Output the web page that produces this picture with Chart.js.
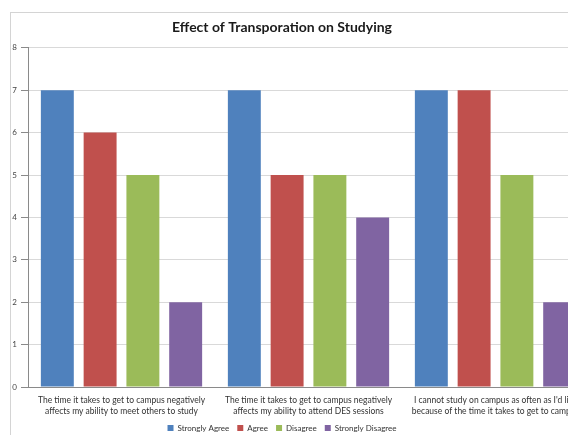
<!DOCTYPE html>
<html>
<head>
<meta charset="utf-8">
<script src="https://cdn.jsdelivr.net/npm/chart.js@4.4.1/dist/chart.umd.min.js"></script>
<style>
  html, body { margin: 0; padding: 0; background: #ffffff; overflow: hidden; width: 568px; height: 435px; }
  #frame { position: absolute; left: 10px; top: 12px; width: 700px; height: 600px; border: 1px solid #d4d4d4; box-sizing: border-box; }
  #c { position: absolute; left: 0; top: 0; }
</style>
</head>
<body>
<div id="frame"></div>
<canvas id="c" width="589" height="435"></canvas>
<script>
// Survey statements (x categories), one wrapped label per group
const categories = [
  ["The time it takes to get to campus negatively", "affects my ability to meet others to study"],
  ["The time it takes to get to campus negatively", "affects my ability to attend DES sessions"],
  ["I cannot study on campus as often as I'd like", "because of the time it takes to get to campus"]
];
const responseLabels = ["Strongly Agree", "Agree", "Disagree", "Strongly Disagree"];
const stronglyAgree = [7, 7, 7];
const agree = [6, 5, 7];
const disagree = [5, 5, 5];
const stronglyDisagree = [2, 4, 2];
const yTicks = [0, 1, 2, 3, 4, 5, 6, 7, 8];

const palette = ["#4F81BD", "#C0504D", "#9BBB59", "#8064A2"];
const series = [stronglyAgree, agree, disagree, stronglyDisagree];

const fontFamily = "Lato, 'Open Sans', 'Liberation Sans', sans-serif";

new Chart(document.getElementById("c"), {
  type: "bar",
  data: {
    labels: categories,
    datasets: series.map((values, i) => ({
      label: responseLabels[i],
      data: values,
      backgroundColor: palette[i],
      borderWidth: 0,
      barPercentage: 0.77,
      categoryPercentage: 0.915
    }))
  },
  options: {
    responsive: false,
    animation: false,
    layout: { padding: { left: -25, right: 0, top: 0, bottom: -7 } },
    plugins: {
      tooltip: { enabled: false },
      title: {
        display: true,
        text: "Effect of Transporation on Studying",
        color: "#1a1a1a",
        font: { family: fontFamily, size: 14, weight: "bold" },
        padding: { top: 19, bottom: 12 }
      },
      legend: {
        position: "bottom",
        labels: {
          boxWidth: 6,
          boxHeight: 6,
          padding: 8,
          color: "#333333",
          font: { family: fontFamily, size: 8 }
        }
      }
    },
    scales: {
      x: {
        afterFit: (scale) => { scale.height = 29; },
        grid: { display: false, drawTicks: false },
        border: { display: true, color: "#8a8a8a" },
        ticks: {
          color: "#333333",
          padding: 8,
          maxRotation: 0,
          autoSkip: false,
          font: { family: fontFamily, size: 8.5, lineHeight: 1.25 }
        }
      },
      y: {
        min: 0,
        max: 8,
        afterFit: (scale) => { scale.width = 53; },
        afterBuildTicks: (scale) => { scale.ticks = yTicks.map(v => ({ value: v })); },
        grid: { color: "#d9d9d9", tickLength: 7, tickColor: "#8a8a8a" },
        border: { display: true, color: "#8a8a8a" },
        ticks: {
          color: "#444444",
          padding: 4,
          font: { family: fontFamily, size: 8 }
        }
      }
    }
  }
});
</script>
</body>
</html>
